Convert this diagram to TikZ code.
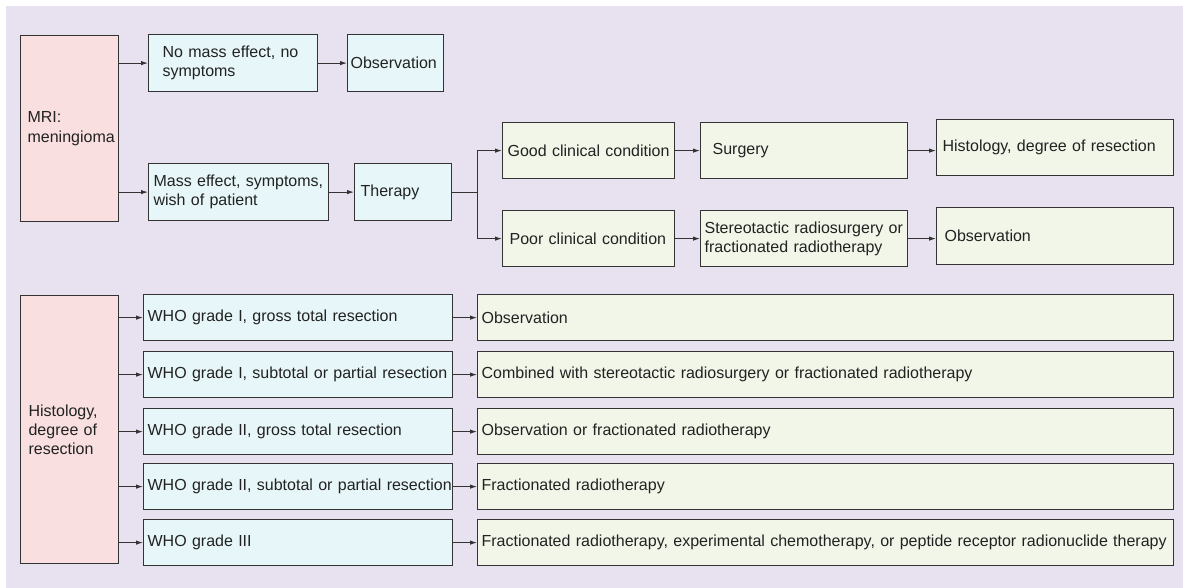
\documentclass[tikz,border=0pt]{standalone}
\usepackage{fontspec}
\setmainfont{Liberation Sans}
\usetikzlibrary{arrows.meta}

\definecolor{bgcol}{HTML}{E8E1F0}
\definecolor{pinkcol}{HTML}{F9DFDF}
\definecolor{cyancol}{HTML}{E7F6F8}
\definecolor{greencol}{HTML}{F1F6E9}
\definecolor{edgecol}{HTML}{333333}
\definecolor{textcol}{HTML}{222222}

\tikzset{
  box/.style={draw=edgecol, line width=1.2pt, anchor=north west, align=left,
    inner xsep=6, inner ysep=0pt, text=textcol,
    font=\fontsize{16}{19.3}\selectfont},
  pinkbox/.style={box, fill=pinkcol},
  cyanbox/.style={box, fill=cyancol},
  greenbox/.style={box, fill=greencol},
  arr/.style={draw=edgecol, line width=1pt, -{Latex[length=7pt,width=4.5pt]}},
}

\begin{document}
\begin{tikzpicture}[x=1pt,y=-1pt]
  \useasboundingbox (0,0) rectangle (1183,588);
  \fill[bgcol] (6,6) rectangle (1183,588);

  % Top chart: MRI finding
  \node[pinkbox, inner xsep=7, text width=84, minimum height=186] (mri) at (20,35) {MRI:\\meningioma};

  \node[cyanbox, inner xsep=14, text width=141, minimum height=57] (nomass) at (148,34) {No mass effect, no\\symptoms};
  \node[cyanbox, inner xsep=3, text width=90, minimum height=57] (obs) at (347,34) {Observation};

  \node[cyanbox, inner xsep=5, text width=170, minimum height=57] (mass) at (148,163) {Mass effect, symptoms,\\wish of patient};
  \node[cyanbox, inner xsep=6, text width=85, minimum height=57] (therapy) at (354,163) {Therapy};

  \node[greenbox, inner xsep=5, text width=162, minimum height=56] (good) at (502,122) {Good clinical condition};
  \node[greenbox, inner xsep=12, text width=183, minimum height=56] (surgery) at (700,122) {Surgery};
  \node[greenbox, inner xsep=6, text width=225, minimum height=56] (histo) at (936,119) {Histology, degree of resection};

  \node[greenbox, inner xsep=7, text width=158, minimum height=56] (poor) at (502,210) {Poor clinical condition};
  \node[greenbox, inner xsep=4, text width=199, minimum height=56] (stereo) at (700,210) {Stereotactic radiosurgery or\\fractionated radiotherapy};
  \node[greenbox, inner xsep=8, text width=221, minimum height=57] (obstwo) at (936,207) {Observation};

  \draw[arr] (mri.east |- nomass.west) -- (nomass.west);
  \draw[arr] (mri.east |- mass.west) -- (mass.west);
  \draw[arr] (nomass.east) -- (obs.west |- nomass.east);
  \draw[arr] (mass.east) -- (therapy.west |- mass.east);

  \coordinate (split) at ([xshift=25]therapy.east);
  \draw[edgecol, line width=1pt] (therapy.east) -- (split);
  \draw[arr] (split) |- (good.west);
  \draw[arr] (split) |- (poor.west);

  \draw[arr] (good.east) -- (surgery.west |- good.east);
  \draw[arr] (surgery.east) -- (histo.west |- surgery.east);
  \draw[arr] (poor.east) -- (stereo.west |- poor.east);
  \draw[arr] (stereo.east) -- (obstwo.west |- stereo.east);

  % Bottom chart: histology
  \node[pinkbox, inner xsep=8, text width=82, minimum height=268] (hist) at (20,295) {Histology,\\degree of\\resection};

  \foreach \i/\y/\who/\res in {
    1/294/{WHO grade I, gross total resection}/{Observation},
    2/351/{WHO grade I, subtotal or partial resection}/{Combined with stereotactic radiosurgery or fractionated radiotherapy},
    3/408/{WHO grade II, gross total resection}/{Observation or fractionated radiotherapy},
    4/463/{WHO grade II, subtotal or partial resection}/{Fractionated radiotherapy},
    5/519/{WHO grade III}/{Fractionated radiotherapy, experimental chemotherapy, or peptide receptor radionuclide therapy}} {
    \node[cyanbox, inner xsep=4, text width=301, minimum height=46] (who\i) at (143,\y) {\mbox{\who}};
    \node[greenbox, inner xsep=4, text width=688, minimum height=46] (res\i) at (477,\y) {\mbox{\res}};
    \draw[arr] (hist.east |- who\i.west) -- (who\i.west);
    \draw[arr] (who\i.east) -- (res\i.west);
  }
\end{tikzpicture}
\end{document}
